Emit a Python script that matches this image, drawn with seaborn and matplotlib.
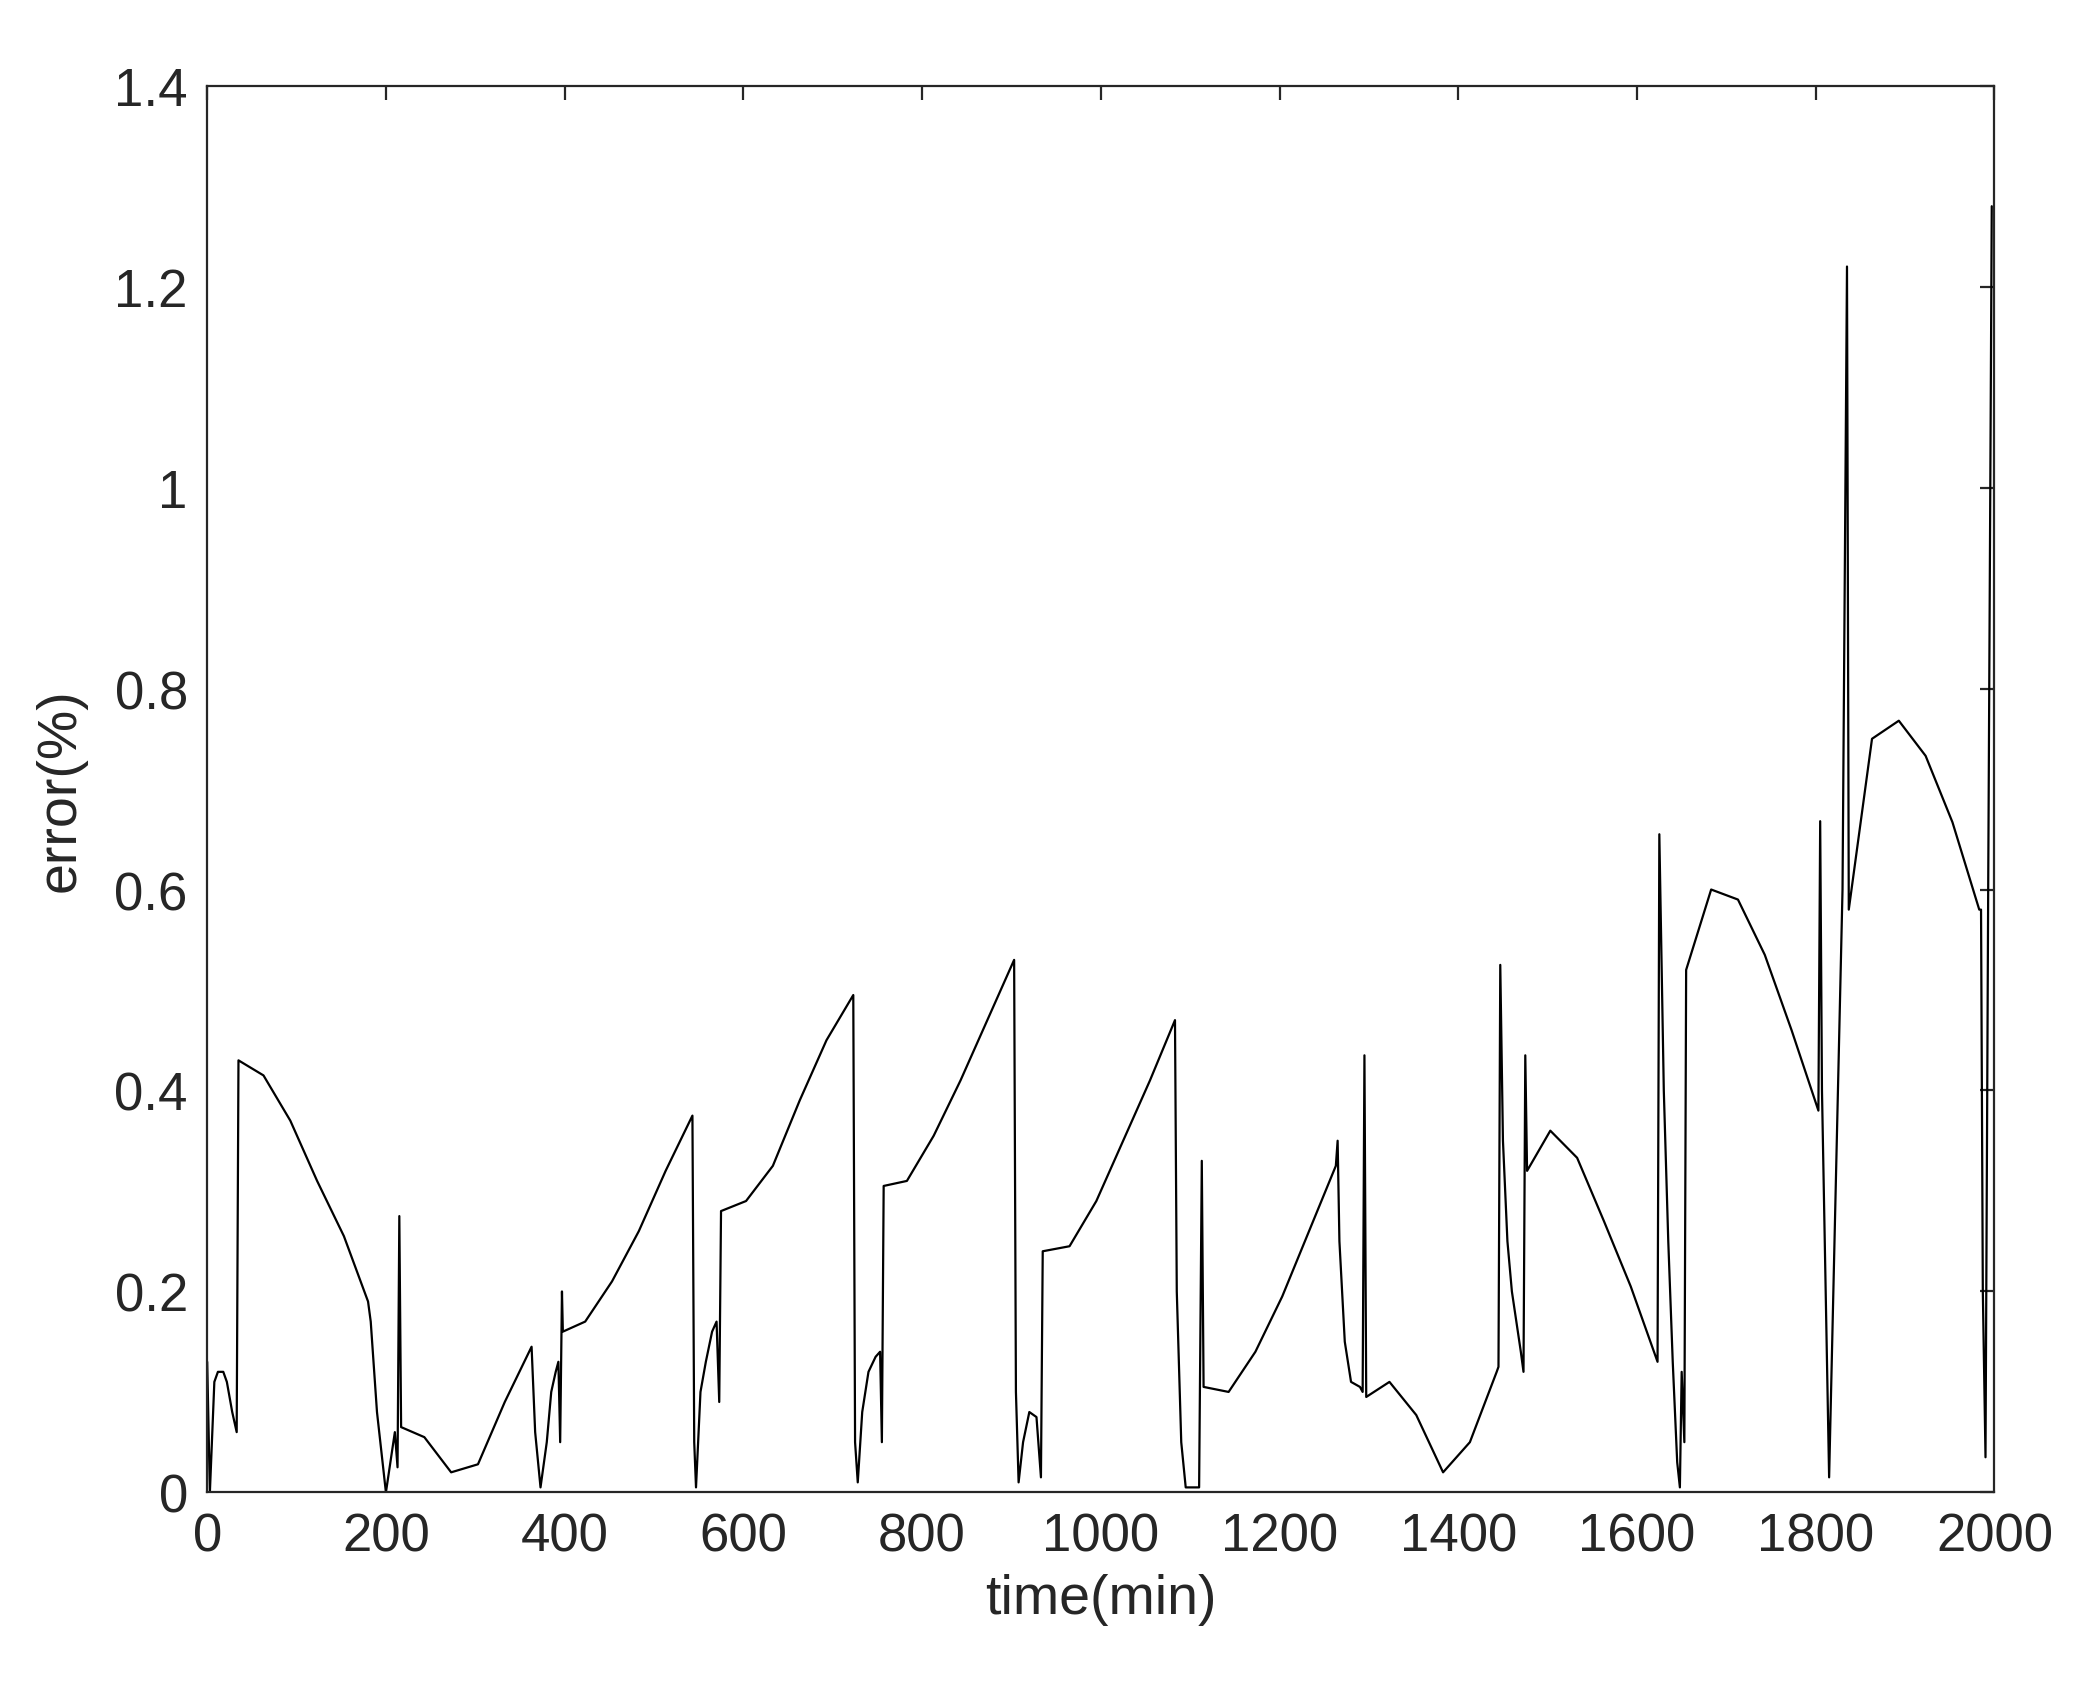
import matplotlib
matplotlib.use("Agg")
import matplotlib.pyplot as plt
import seaborn as sns
import pandas as pd

time_min = [0,3,8,12,18,22,28,33,35,63,93,123,153,180,183,190,200,210,213,215,217,243,273,303,333,363,367,373,380,385,390,393,395,397,398,423,453,483,513,543,545,547,552,558,565,570,573,575,603,633,663,693,723,725,728,733,740,748,753,755,757,783,813,843,873,903,905,908,913,920,928,933,935,965,995,1025,1055,1083,1085,1090,1095,1110,1113,1115,1143,1173,1203,1233,1263,1265,1267,1273,1280,1290,1293,1295,1297,1323,1353,1383,1413,1443,1445,1447,1450,1455,1460,1465,1470,1473,1475,1477,1503,1533,1563,1593,1623,1625,1630,1635,1640,1645,1648,1650,1653,1655,1683,1713,1743,1773,1803,1805,1807,1815,1830,1835,1837,1863,1893,1923,1953,1983,1985,1987,1990,1993,1997]
error_pct = [0.13,0.0,0.11,0.12,0.12,0.11,0.08,0.06,0.43,0.415,0.37,0.31,0.255,0.19,0.17,0.08,0.0,0.06,0.025,0.275,0.065,0.055,0.02,0.028,0.09,0.145,0.06,0.005,0.05,0.1,0.12,0.13,0.05,0.2,0.16,0.17,0.21,0.26,0.32,0.375,0.05,0.005,0.1,0.13,0.16,0.17,0.09,0.28,0.29,0.325,0.39,0.45,0.495,0.05,0.01,0.08,0.12,0.135,0.14,0.05,0.305,0.31,0.355,0.41,0.47,0.53,0.1,0.01,0.05,0.08,0.075,0.015,0.24,0.245,0.29,0.35,0.41,0.47,0.2,0.05,0.005,0.005,0.33,0.105,0.1,0.14,0.195,0.26,0.325,0.35,0.25,0.15,0.11,0.105,0.1,0.435,0.095,0.11,0.077,0.02,0.05,0.12,0.125,0.525,0.35,0.25,0.2,0.17,0.14,0.12,0.435,0.32,0.36,0.333,0.27,0.205,0.13,0.655,0.4,0.25,0.13,0.03,0.005,0.12,0.05,0.52,0.6,0.59,0.535,0.46,0.38,0.668,0.4,0.015,0.6,1.22,0.58,0.75,0.768,0.733,0.667,0.58,0.58,0.2,0.035,0.6,1.28]
xticks = [0,200,400,600,800,1000,1200,1400,1600,1800,2000]
yticks = [0,0.2,0.4,0.6,0.8,1.0,1.2,1.4]
ytick_labels = ["0","0.2","0.4","0.6","0.8","1","1.2","1.4"]

sns.set_style("white")
plt.rcParams['font.family'] = ['Liberation Sans', 'DejaVu Sans']
df = pd.DataFrame({"t": time_min, "e": error_pct})

fig = plt.figure(figsize=(10.475, 8.495), dpi=200)
ax = fig.add_axes([0.0989, 0.121, 0.8531, 0.828])
sns.lineplot(data=df, x="t", y="e", ax=ax, color="black", linewidth=0.8, sort=False, estimator=None)
ax.set_xlim(0, 2000)
ax.set_ylim(0, 1.4)
ax.set_xticks(xticks)
ax.set_yticks(yticks)
ax.set_yticklabels(ytick_labels)
ax.tick_params(direction="in", top=True, right=True, length=5, width=0.8, labelsize=19, colors="#262626", pad=7)
for s in ax.spines.values():
    s.set_linewidth(0.8)
    s.set_color("#262626")
ax.set_xlabel("time(min)", fontsize=20, color="#262626", labelpad=4)
ax.set_ylabel("error(%)", fontsize=20, color="#262626", labelpad=10)
fig.savefig("out.png", dpi=200)
